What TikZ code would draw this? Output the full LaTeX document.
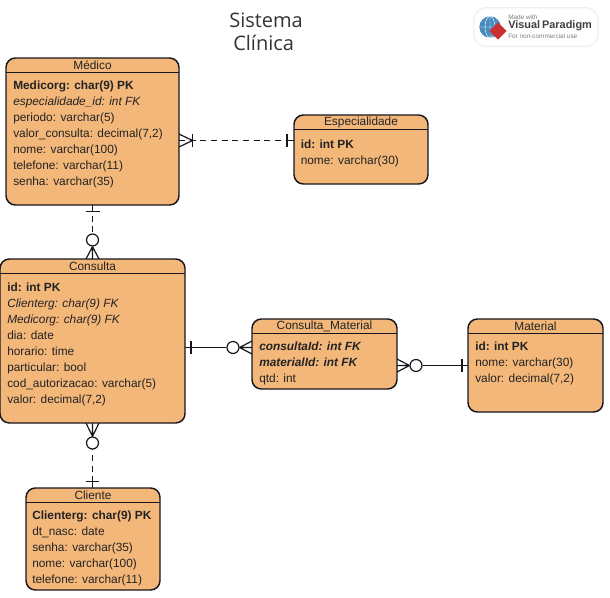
\documentclass[tikz,border=0pt]{standalone}
\usepackage{fontspec}
\setmainfont{Liberation Sans}
\newfontfamily\titlefont{Open Sans}
\usepackage{xcolor}
\usetikzlibrary{shapes.geometric, positioning, calc}
\definecolor{ERFill}{RGB}{244,183,122}
\definecolor{ERLine}{RGB}{22,22,30}
\definecolor{ERText}{RGB}{35,35,35}
\definecolor{VPBlue}{RGB}{70,140,190}
\definecolor{VPRed}{RGB}{200,50,50}
\definecolor{VPGray}{RGB}{125,125,125}

\begin{document}
\begin{tikzpicture}[
          x=0.75pt, y=-0.75pt,
          entbox/.style={draw=ERLine, fill=ERFill, line width=1.1pt,
                         rounded corners=7pt, inner sep=0pt, outer sep=0pt,
                         anchor=north west},
          enttitle/.style={inner sep=0pt, text=ERText,
                           font=\fontsize{8.9}{10}\selectfont},
          entattr/.style={inner sep=0pt, anchor=north west, align=left,
                          text=ERText, font=\fontsize{8.9}{12}\selectfont},
          headline/.style={ERLine, line width=0.75pt},
          rel/.style={ERLine, line width=0.9pt},
          relbar/.style={ERLine, line width=1.2pt},
          reldash/.style={rel, dash pattern=on 4.5pt off 3.5pt},
          optcircle/.style={circle, draw=ERLine, fill=white, line width=0.9pt,
                            minimum size=9pt, inner sep=0pt}
        ]
        \useasboundingbox (0,0) rectangle (610,597);

        % Title
        \node[inner sep=0pt, anchor=north west, align=left,
              text=black!80, font=\titlefont\fontsize{15}{17.25}\selectfont]
              (diagtitle) at (229,13) {Sistema\\\hspace*{3pt}Cl\'inica};

        % Logo
        \node[fill=white, draw=black!6, line width=1pt, rounded corners=9pt,
              minimum width=93pt, minimum height=29pt, inner sep=0pt]
              (logo) at (536,27) {};
        \node[circle, fill=VPBlue, minimum size=16pt, inner sep=0pt]
              (logoglobe) at (490,27) {};
        \draw[white, line width=0.3pt] (logoglobe.north) -- (logoglobe.south)
              (logoglobe.west) -- (logoglobe.east)
              (logoglobe.center) ellipse (5 and 10.5);
        \node[diamond, fill=VPRed, minimum size=13pt, inner sep=0pt, aspect=1]
              (logomark) at (498,31) {};
        \node[inner sep=0pt, anchor=west, text=VPGray,
              font=\fontsize{4.8}{5}\selectfont] (logoa) at (508,17) {Made with};
        \node[inner sep=0pt, anchor=west, text=black!75,
              font=\fontsize{8.2}{9}\selectfont\bfseries] (logob) at (508,26) {Visual\,Paradigm};
        \node[inner sep=0pt, anchor=west, text=VPGray,
              font=\fontsize{4.8}{5}\selectfont] (logoc) at (508,36) {For non-commercial use};

        % Connector lines go below the boxes
        \coordinate (medicoR) at (179,140.5);
        \coordinate (especialidadeL) at (294,140.5);
        \coordinate (consultaR) at (185,347.5);
        \coordinate (consmatL) at (252,347.5);
        \coordinate (consmatR) at (397,365.5);
        \coordinate (materialL) at (468,365.5);
        \coordinate (medicoB) at (92.5,205);
        \coordinate (consultaT) at (92.5,259);
        \coordinate (consultaB) at (92.5,423);
        \coordinate (clienteT) at (92.5,488);

        % Medico -- Especialidade
        \draw[reldash] (medicoR) -- (especialidadeL);
        \draw[rel] (192.5,140.5) -- (179,134) (192.5,140.5) -- (179,147);
        \draw[relbar] (192.5,134) -- (192.5,147);
        \draw[relbar] (287,134) -- (287,147);
        \draw[rel] (287,140.5) -- (especialidadeL);

        % Medico -- Consulta
        \draw[reldash] (medicoB) -- (consultaT);
        \draw[relbar] (85.5,211.5) -- (99.5,211.5);
        \draw[rel] (medicoB) -- (92.5,211.5);
        \node[optcircle] (circa) at (92.5,240) {};
        \draw[rel] (circa.south) -- (86,259) (circa.south) -- (99,259)
              (circa.south) -- (consultaT);

        % Consulta -- Consulta_Material
        \node[optcircle] (circb) at (233,347.5) {};
        \draw[rel] (consultaR) -- (circb.west);
        \draw[relbar] (191,341) -- (191,354);
        \draw[rel] (circb.east) -- (252,341) (circb.east) -- (252,354)
              (circb.east) -- (consmatL);

        % Consulta_Material -- Material
        \node[optcircle] (circc) at (416,365.5) {};
        \draw[rel] (circc.east) -- (materialL);
        \draw[relbar] (462,359) -- (462,372);
        \draw[rel] (circc.west) -- (397,359) (circc.west) -- (397,372)
              (circc.west) -- (consmatR);

        % Consulta -- Cliente
        \draw[reldash] (consultaB) -- (clienteT);
        \node[optcircle] (circd) at (92.5,443) {};
        \draw[rel] (circd.north) -- (86,423) (circd.north) -- (99,423)
              (circd.north) -- (consultaB);
        \draw[relbar] (86,481.5) -- (99,481.5);
        \draw[rel] (92.5,481.5) -- (clienteT);

        % Medico
        \node[entbox, minimum width=129.75pt, minimum height=110.25pt]
              (medico) at (6,58) {};
        \draw[headline] ($(medico.north west)+(0,14)$) -- ($(medico.north east)+(0,14)$);
        \node[enttitle] (medicotitle) at ($(medico.north)+(0,7)$) {M\'edico};
        \node[entattr] (medicoattr) at (13,81)
              {\textbf{Medicorg: char(9) PK}\\
               \textit{especialidade\_id: int FK}\\
               periodo: varchar(5)\\
               valor\_consulta: decimal(7,2)\\
               nome: varchar(100)\\
               telefone: varchar(11)\\
               senha: varchar(35)};

        % Especialidade
        \node[entbox, minimum width=100.5pt, minimum height=51.75pt]
              (especialidade) at (294,115) {};
        \draw[headline] ($(especialidade.north west)+(0,14)$) -- ($(especialidade.north east)+(0,14)$);
        \node[enttitle] (especialidadetitle) at ($(especialidade.north)+(0,7)$) {Especialidade};
        \node[entattr] (especialidadeattr) at (300.5,140)
              {\textbf{id: int PK}\\
               nome: varchar(30)};

        % Consulta
        \node[entbox, minimum width=138.75pt, minimum height=123pt]
              (consulta) at (0,259) {};
        \draw[headline] ($(consulta.north west)+(0,14)$) -- ($(consulta.north east)+(0,14)$);
        \node[enttitle] (consultatitle) at ($(consulta.north)+(0,7)$) {Consulta};
        \node[entattr] (consultaattr) at (7,283)
              {\textbf{id: int PK}\\
               \textit{Clienterg: char(9) FK}\\
               \textit{Medicorg: char(9) FK}\\
               dia: date\\
               horario: time\\
               particular: bool\\
               cod\_autorizacao: varchar(5)\\
               valor: decimal(7,2)};

        % Consulta_Material
        \node[entbox, minimum width=108.75pt, minimum height=52.5pt]
              (consmat) at (252,319) {};
        \draw[headline] ($(consmat.north west)+(0,14)$) -- ($(consmat.north east)+(0,14)$);
        \node[enttitle] (consmattitle) at ($(consmat.north)+(0,7)$) {Consulta\_Material};
        \node[entattr] (consmatattr) at (259,342)
              {\textbf{\textit{consultaId: int FK}}\\
               \textbf{\textit{materialId: int FK}}\\
               qtd: int};

        % Material
        \node[entbox, minimum width=101.25pt, minimum height=69.75pt]
              (material) at (468,319) {};
        \draw[headline] ($(material.north west)+(0,14)$) -- ($(material.north east)+(0,14)$);
        \node[enttitle] (materialtitle) at ($(material.north)+(0,7)$) {Material};
        \node[entattr] (materialattr) at (475,342)
              {\textbf{id: int PK}\\
               nome: varchar(30)\\
               valor: decimal(7,2)};

        % Cliente
        \node[entbox, minimum width=100.5pt, minimum height=76.5pt]
              (cliente) at (26,488) {};
        \draw[headline] ($(cliente.north west)+(0,14)$) -- ($(cliente.north east)+(0,14)$);
        \node[enttitle] (clientetitle) at ($(cliente.north)+(0,7)$) {Cliente};
        \node[entattr] (clienteattr) at (32,511)
              {\textbf{Clienterg: char(9) PK}\\
               dt\_nasc: date\\
               senha: varchar(35)\\
               nome: varchar(100)\\
               telefone: varchar(11)};
      \end{tikzpicture}
\end{document}
